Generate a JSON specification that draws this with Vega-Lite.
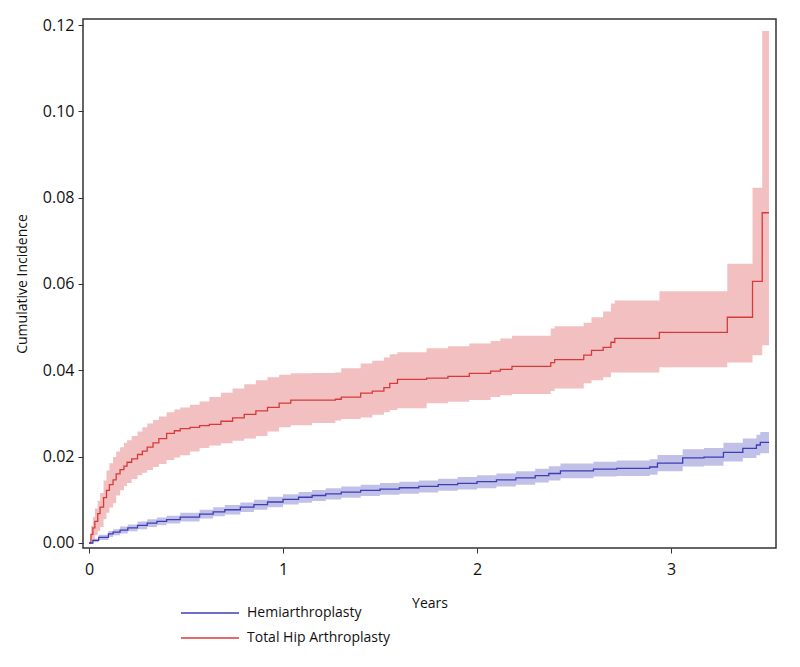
{
  "$schema": "https://vega.github.io/schema/vega-lite/v6.json",
  "width": 693,
  "height": 529,
  "autosize": {"type": "none"},
  "padding": {"left": 83, "top": 19, "right": 24, "bottom": 119},
  "background": "white",
  "config": {
    "view": {"stroke": "#333333", "strokeWidth": 1.5},
    "font": "Open Sans",
    "axis": {"domain": false, "grid": false, "tickColor": "#333333", "tickSize": 5, "labelFontSize": 16, "labelColor": "#111111", "titleFontSize": 14, "titleFontWeight": "normal", "titleColor": "#111111", "labelFont": "Open Sans", "titleFont": "Open Sans"}
  },
  "datasets": {
    "cif": [
      {"group": "Total Hip Arthroplasty", "t": 0.0, "est": 0.0, "lo": 0.0, "hi": 0.0},
      {"group": "Total Hip Arthroplasty", "t": 0.01, "est": 0.002, "lo": 0.0005, "hi": 0.004},
      {"group": "Total Hip Arthroplasty", "t": 0.02, "est": 0.0035, "lo": 0.001, "hi": 0.006},
      {"group": "Total Hip Arthroplasty", "t": 0.03, "est": 0.005, "lo": 0.0018, "hi": 0.008},
      {"group": "Total Hip Arthroplasty", "t": 0.045, "est": 0.0068, "lo": 0.0028, "hi": 0.0098},
      {"group": "Total Hip Arthroplasty", "t": 0.057, "est": 0.0083, "lo": 0.0037, "hi": 0.0116},
      {"group": "Total Hip Arthroplasty", "t": 0.075, "est": 0.0105, "lo": 0.0055, "hi": 0.0145},
      {"group": "Total Hip Arthroplasty", "t": 0.09, "est": 0.0122, "lo": 0.007, "hi": 0.0168},
      {"group": "Total Hip Arthroplasty", "t": 0.105, "est": 0.0135, "lo": 0.0082, "hi": 0.0185},
      {"group": "Total Hip Arthroplasty", "t": 0.124, "est": 0.0146, "lo": 0.0092, "hi": 0.0199},
      {"group": "Total Hip Arthroplasty", "t": 0.14, "est": 0.016, "lo": 0.011, "hi": 0.0212},
      {"group": "Total Hip Arthroplasty", "t": 0.16, "est": 0.017, "lo": 0.0122, "hi": 0.0222},
      {"group": "Total Hip Arthroplasty", "t": 0.18, "est": 0.0178, "lo": 0.0132, "hi": 0.0232},
      {"group": "Total Hip Arthroplasty", "t": 0.196, "est": 0.0187, "lo": 0.0139, "hi": 0.0238},
      {"group": "Total Hip Arthroplasty", "t": 0.22, "est": 0.0195, "lo": 0.0148, "hi": 0.0248},
      {"group": "Total Hip Arthroplasty", "t": 0.25, "est": 0.0205, "lo": 0.0157, "hi": 0.0258},
      {"group": "Total Hip Arthroplasty", "t": 0.275, "est": 0.0213, "lo": 0.0163, "hi": 0.0268},
      {"group": "Total Hip Arthroplasty", "t": 0.3, "est": 0.0222, "lo": 0.0169, "hi": 0.0277},
      {"group": "Total Hip Arthroplasty", "t": 0.33, "est": 0.0232, "lo": 0.0176, "hi": 0.0285},
      {"group": "Total Hip Arthroplasty", "t": 0.36, "est": 0.0242, "lo": 0.0183, "hi": 0.0293},
      {"group": "Total Hip Arthroplasty", "t": 0.4, "est": 0.0254, "lo": 0.0192, "hi": 0.0303},
      {"group": "Total Hip Arthroplasty", "t": 0.44, "est": 0.026, "lo": 0.0198, "hi": 0.0309},
      {"group": "Total Hip Arthroplasty", "t": 0.47, "est": 0.0265, "lo": 0.0203, "hi": 0.0314},
      {"group": "Total Hip Arthroplasty", "t": 0.52, "est": 0.0268, "lo": 0.0212, "hi": 0.032},
      {"group": "Total Hip Arthroplasty", "t": 0.57, "est": 0.0272, "lo": 0.022, "hi": 0.0328},
      {"group": "Total Hip Arthroplasty", "t": 0.62, "est": 0.0275, "lo": 0.0226, "hi": 0.0338},
      {"group": "Total Hip Arthroplasty", "t": 0.68, "est": 0.0282, "lo": 0.0231, "hi": 0.0348},
      {"group": "Total Hip Arthroplasty", "t": 0.74, "est": 0.029, "lo": 0.0237, "hi": 0.0358},
      {"group": "Total Hip Arthroplasty", "t": 0.8, "est": 0.0298, "lo": 0.0242, "hi": 0.0368},
      {"group": "Total Hip Arthroplasty", "t": 0.86, "est": 0.0306, "lo": 0.0248, "hi": 0.0377},
      {"group": "Total Hip Arthroplasty", "t": 0.92, "est": 0.0314, "lo": 0.0258, "hi": 0.0384},
      {"group": "Total Hip Arthroplasty", "t": 0.98, "est": 0.0324, "lo": 0.0268, "hi": 0.039},
      {"group": "Total Hip Arthroplasty", "t": 1.04, "est": 0.0331, "lo": 0.0273, "hi": 0.0393},
      {"group": "Total Hip Arthroplasty", "t": 1.15, "est": 0.0331, "lo": 0.0278, "hi": 0.0394},
      {"group": "Total Hip Arthroplasty", "t": 1.27, "est": 0.0333, "lo": 0.0284, "hi": 0.0395},
      {"group": "Total Hip Arthroplasty", "t": 1.3, "est": 0.0338, "lo": 0.0287, "hi": 0.0405},
      {"group": "Total Hip Arthroplasty", "t": 1.4, "est": 0.0347, "lo": 0.0291, "hi": 0.0416},
      {"group": "Total Hip Arthroplasty", "t": 1.46, "est": 0.0352, "lo": 0.0297, "hi": 0.0422},
      {"group": "Total Hip Arthroplasty", "t": 1.52, "est": 0.036, "lo": 0.0303, "hi": 0.043},
      {"group": "Total Hip Arthroplasty", "t": 1.55, "est": 0.037, "lo": 0.0308, "hi": 0.0437},
      {"group": "Total Hip Arthroplasty", "t": 1.59, "est": 0.0379, "lo": 0.0312, "hi": 0.0442},
      {"group": "Total Hip Arthroplasty", "t": 1.74, "est": 0.0382, "lo": 0.0324, "hi": 0.0451},
      {"group": "Total Hip Arthroplasty", "t": 1.85, "est": 0.0386, "lo": 0.0327, "hi": 0.0456},
      {"group": "Total Hip Arthroplasty", "t": 1.96, "est": 0.0393, "lo": 0.0331, "hi": 0.0462},
      {"group": "Total Hip Arthroplasty", "t": 2.07, "est": 0.0398, "lo": 0.0338, "hi": 0.0468},
      {"group": "Total Hip Arthroplasty", "t": 2.12, "est": 0.0402, "lo": 0.0342, "hi": 0.0474},
      {"group": "Total Hip Arthroplasty", "t": 2.18, "est": 0.0409, "lo": 0.0345, "hi": 0.048},
      {"group": "Total Hip Arthroplasty", "t": 2.38, "est": 0.0418, "lo": 0.0352, "hi": 0.0497},
      {"group": "Total Hip Arthroplasty", "t": 2.4, "est": 0.0425, "lo": 0.0358, "hi": 0.0502},
      {"group": "Total Hip Arthroplasty", "t": 2.55, "est": 0.0435, "lo": 0.037, "hi": 0.051},
      {"group": "Total Hip Arthroplasty", "t": 2.59, "est": 0.0446, "lo": 0.0377, "hi": 0.0523},
      {"group": "Total Hip Arthroplasty", "t": 2.65, "est": 0.0453, "lo": 0.0384, "hi": 0.0536},
      {"group": "Total Hip Arthroplasty", "t": 2.69, "est": 0.0465, "lo": 0.0395, "hi": 0.0555},
      {"group": "Total Hip Arthroplasty", "t": 2.71, "est": 0.0474, "lo": 0.0395, "hi": 0.0562},
      {"group": "Total Hip Arthroplasty", "t": 2.94, "est": 0.0488, "lo": 0.0407, "hi": 0.0583},
      {"group": "Total Hip Arthroplasty", "t": 3.29, "est": 0.0523, "lo": 0.0418, "hi": 0.0647},
      {"group": "Total Hip Arthroplasty", "t": 3.42, "est": 0.0606, "lo": 0.0435, "hi": 0.0823},
      {"group": "Total Hip Arthroplasty", "t": 3.47, "est": 0.0765, "lo": 0.0458, "hi": 0.1186},
      {"group": "Total Hip Arthroplasty", "t": 3.505, "est": 0.0765, "lo": 0.0458, "hi": 0.1186},
      {"group": "Hemiarthroplasty", "t": 0.0, "est": 0.0, "lo": 0.0, "hi": 0.0},
      {"group": "Hemiarthroplasty", "t": 0.02, "est": 0.0006, "lo": 0.0002, "hi": 0.001},
      {"group": "Hemiarthroplasty", "t": 0.05, "est": 0.0013, "lo": 0.0007, "hi": 0.0019},
      {"group": "Hemiarthroplasty", "t": 0.1, "est": 0.0021, "lo": 0.0014, "hi": 0.0028},
      {"group": "Hemiarthroplasty", "t": 0.124, "est": 0.0025, "lo": 0.0018, "hi": 0.0032},
      {"group": "Hemiarthroplasty", "t": 0.16, "est": 0.003, "lo": 0.0022, "hi": 0.0038},
      {"group": "Hemiarthroplasty", "t": 0.2, "est": 0.0035, "lo": 0.0027, "hi": 0.0043},
      {"group": "Hemiarthroplasty", "t": 0.25, "est": 0.0041, "lo": 0.0032, "hi": 0.005},
      {"group": "Hemiarthroplasty", "t": 0.3, "est": 0.0046, "lo": 0.0037, "hi": 0.0055},
      {"group": "Hemiarthroplasty", "t": 0.35, "est": 0.005, "lo": 0.0041, "hi": 0.0059},
      {"group": "Hemiarthroplasty", "t": 0.4, "est": 0.0054, "lo": 0.0045, "hi": 0.0063},
      {"group": "Hemiarthroplasty", "t": 0.47, "est": 0.006, "lo": 0.005, "hi": 0.007},
      {"group": "Hemiarthroplasty", "t": 0.57, "est": 0.0067, "lo": 0.0057, "hi": 0.0077},
      {"group": "Hemiarthroplasty", "t": 0.64, "est": 0.0072, "lo": 0.0062, "hi": 0.0083},
      {"group": "Hemiarthroplasty", "t": 0.7, "est": 0.0077, "lo": 0.0066, "hi": 0.0088},
      {"group": "Hemiarthroplasty", "t": 0.78, "est": 0.0083, "lo": 0.0072, "hi": 0.0094},
      {"group": "Hemiarthroplasty", "t": 0.85, "est": 0.0089, "lo": 0.0077, "hi": 0.01},
      {"group": "Hemiarthroplasty", "t": 0.92, "est": 0.0095, "lo": 0.0083, "hi": 0.0107},
      {"group": "Hemiarthroplasty", "t": 1.0, "est": 0.0101, "lo": 0.0089, "hi": 0.0113},
      {"group": "Hemiarthroplasty", "t": 1.08, "est": 0.0106, "lo": 0.0093, "hi": 0.0118},
      {"group": "Hemiarthroplasty", "t": 1.15, "est": 0.011, "lo": 0.0097, "hi": 0.0123},
      {"group": "Hemiarthroplasty", "t": 1.22, "est": 0.0114, "lo": 0.0101, "hi": 0.0127},
      {"group": "Hemiarthroplasty", "t": 1.3, "est": 0.0118, "lo": 0.0105, "hi": 0.0131},
      {"group": "Hemiarthroplasty", "t": 1.4, "est": 0.0122, "lo": 0.0109, "hi": 0.0135},
      {"group": "Hemiarthroplasty", "t": 1.5, "est": 0.0125, "lo": 0.0112, "hi": 0.0139},
      {"group": "Hemiarthroplasty", "t": 1.6, "est": 0.0128, "lo": 0.0114, "hi": 0.0142},
      {"group": "Hemiarthroplasty", "t": 1.7, "est": 0.0131, "lo": 0.0117, "hi": 0.0145},
      {"group": "Hemiarthroplasty", "t": 1.8, "est": 0.0135, "lo": 0.0121, "hi": 0.0149},
      {"group": "Hemiarthroplasty", "t": 1.9, "est": 0.0138, "lo": 0.0124, "hi": 0.0153},
      {"group": "Hemiarthroplasty", "t": 2.0, "est": 0.0142, "lo": 0.0127, "hi": 0.0157},
      {"group": "Hemiarthroplasty", "t": 2.1, "est": 0.0146, "lo": 0.0131, "hi": 0.0161},
      {"group": "Hemiarthroplasty", "t": 2.2, "est": 0.0151, "lo": 0.0135, "hi": 0.0166},
      {"group": "Hemiarthroplasty", "t": 2.3, "est": 0.0156, "lo": 0.014, "hi": 0.0172},
      {"group": "Hemiarthroplasty", "t": 2.37, "est": 0.0161, "lo": 0.0145, "hi": 0.0178},
      {"group": "Hemiarthroplasty", "t": 2.43, "est": 0.0167, "lo": 0.015, "hi": 0.0184},
      {"group": "Hemiarthroplasty", "t": 2.6, "est": 0.0171, "lo": 0.0154, "hi": 0.0188},
      {"group": "Hemiarthroplasty", "t": 2.72, "est": 0.0173, "lo": 0.0155, "hi": 0.0191},
      {"group": "Hemiarthroplasty", "t": 2.89, "est": 0.0176, "lo": 0.0158, "hi": 0.0194},
      {"group": "Hemiarthroplasty", "t": 2.93, "est": 0.0185, "lo": 0.0166, "hi": 0.0204},
      {"group": "Hemiarthroplasty", "t": 3.06, "est": 0.0197, "lo": 0.0177, "hi": 0.0217},
      {"group": "Hemiarthroplasty", "t": 3.17, "est": 0.0199, "lo": 0.0179, "hi": 0.022},
      {"group": "Hemiarthroplasty", "t": 3.27, "est": 0.021, "lo": 0.0189, "hi": 0.0232},
      {"group": "Hemiarthroplasty", "t": 3.37, "est": 0.0219, "lo": 0.0197, "hi": 0.0242},
      {"group": "Hemiarthroplasty", "t": 3.44, "est": 0.0227, "lo": 0.0203, "hi": 0.0251},
      {"group": "Hemiarthroplasty", "t": 3.46, "est": 0.0233, "lo": 0.0208, "hi": 0.0257},
      {"group": "Hemiarthroplasty", "t": 3.505, "est": 0.0233, "lo": 0.0208, "hi": 0.0257}
    ]
  },
  "data": {"name": "cif"},
  "encoding": {
    "x": {"field": "t", "type": "quantitative", "scale": {"domain": [-0.031, 3.541], "nice": false, "zero": false}, "axis": {"values": [0, 1, 2, 3], "title": "Years", "titlePadding": 19, "labelPadding": 8}},
    "color": {"field": "group", "type": "nominal", "scale": {"domain": ["Hemiarthroplasty", "Total Hip Arthroplasty"], "range": ["#3d3db8", "#d83a3a"]}, "legend": {"title": null, "orient": "none", "legendX": 120, "legendY": 587, "symbolType": "M-5,0H5", "symbolSize": 135, "symbolStrokeWidth": 1.5, "symbolOpacity": 1, "labelFontSize": 14, "labelFont": "Open Sans", "labelColor": "#111111", "rowPadding": 11, "labelOffset": 30}}
  },
  "layer": [
    {
      "mark": {"type": "area", "interpolate": "step-after", "opacity": 0.32, "clip": true},
      "encoding": {
        "y": {"field": "lo", "type": "quantitative", "scale": {"domain": [-0.00116, 0.12139], "nice": false, "zero": false}, "axis": {"values": [0, 0.02, 0.04, 0.06, 0.08, 0.1, 0.12], "format": ".2f", "title": "Cumulative Incidence", "titlePadding": 13, "labelPadding": 4}},
        "y2": {"field": "hi"}
      }
    },
    {
      "mark": {"type": "line", "interpolate": "step-after", "strokeWidth": 1.3, "clip": true},
      "encoding": {
        "y": {"field": "est", "type": "quantitative"}
      }
    }
  ]
}
